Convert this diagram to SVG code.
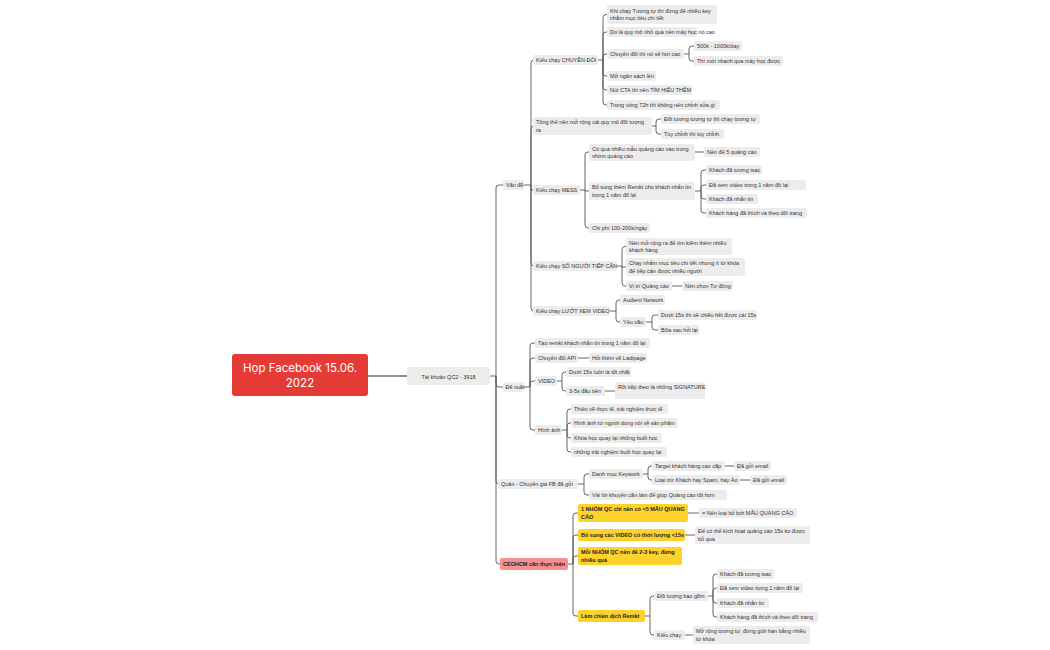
<svg xmlns="http://www.w3.org/2000/svg" width="1050" height="650" viewBox="0 0 1050 650">
<style>
.b{fill:#ececec}
.y{fill:#fdd22d}
.t{font-family:"Liberation Sans",Arial,sans-serif;font-size:5.5px;fill:#333}
.tb{font-family:"Liberation Sans",Arial,sans-serif;font-size:5.5px;fill:#222;font-weight:bold}
.c{fill:none;stroke:#555;stroke-width:0.9}
</style>
<rect width="1050" height="650" fill="#fff"/>
<g id="connectors">
<path d="M368 376H407" fill="none" stroke="#666" stroke-width="1.6"/>
<path class="c" stroke-width="1.3" d="M490 376H496M496 376V188Q496 185 499 185H503M496 376V384Q496 387 499 387H503M496 376V481Q496 484 499 484H498M496 376V561Q496 564 499 564H500"/>
<path class="c" d="M524 185H531M531 185V63Q531 60 534 60H533M531 185V129Q531 126 534 126H533M531 185V190H533M531 185V263Q531 266 534 266H533M531 185V308Q531 311 534 311H533"/>
<path class="c" d="M598 60H603M603 60V17.5Q603 14.5 606 14.5H607M603 60V35Q603 32 606 32H607M603 60V57Q603 54 606 54H607M603 60V73Q603 76 606 76H607M603 60V87Q603 90 606 90H607M603 60V102Q603 105 606 105H607"/>
<path class="c" d="M684 54H689M689 54V49Q689 46 692 46H694M689 54V58Q689 61 692 61H694"/>
<path class="c" d="M652 126H656M656 126V122Q656 119 659 119H661M656 126V131Q656 134 659 134H661"/>
<path class="c" d="M580 190H585M585 190V155Q585 152 588 152H589M585 190V191H589M585 190V225Q585 228 588 228H589"/>
<path class="c" d="M695 152H704"/>
<path class="c" d="M695 191H701M701 191V173Q701 170 704 170H706M701 191V188Q701 185 704 185H706M701 191V196Q701 199 704 199H706M701 191V210Q701 213 704 213H706"/>
<path class="c" d="M617 266H622M622 266V249.5Q622 246.5 625 246.5H626M622 266V267H626M622 266V283Q622 286 625 286H626"/>
<path class="c" d="M672 286H682"/>
<path class="c" d="M610 311H616M616 311V303Q616 300 619 300H620M616 311V319Q616 322 619 322H620"/>
<path class="c" d="M646 322H652M652 322V318Q652 315 655 315H658M652 322V327Q652 330 655 330H658"/>
<path class="c" d="M524 387H530M530 387V346Q530 343 533 343H535M530 387V361Q530 358 533 358H535M530 387V384Q530 381 533 381H535M530 387V427Q530 430 533 430H535"/>
<path class="c" d="M578 358H589"/>
<path class="c" d="M557 381H562M562 381V375Q562 372 565 372H566M562 381V388Q562 391 565 391H566"/>
<path class="c" d="M605 391H615"/>
<path class="c" d="M562 430H567M567 430V412Q567 409 570 409H571M567 430V426Q567 423 570 423H571M567 430V435Q567 438 570 438H571M567 430V449Q567 452 570 452H571"/>
<path class="c" d="M578 484H584M584 484V477Q584 474 587 474H589M584 484V492Q584 495 587 495H589"/>
<path class="c" d="M643 474H648M648 474V469Q648 466 651 466H652M648 474V477Q648 480 651 480H652"/>
<path class="c" d="M725 466H734M740 480H750"/>
<path class="c" d="M568 564H573M573 564V516Q573 513 576 513H578M573 564V538Q573 535 576 535H578M573 564V559Q573 556 576 556H578M573 564V613Q573 616 576 616H578"/>
<path class="c" d="M688 513H699M685 535H695"/>
<path class="c" d="M645 616H650M650 616V599Q650 596 653 596H654M650 616V632Q650 635 653 635H654"/>
<path class="c" d="M708 596H713M713 596V577Q713 574 716 574H717M713 596V591Q713 588 716 588H717M713 596V600Q713 603 716 603H717M713 596V614Q713 617 716 617H717"/>
<path class="c" d="M685 635H693"/>
</g>
<g id="root"><rect x="232" y="354" width="136" height="42" rx="3" fill="#e43b36"/><text font-family="Inter,'Liberation Sans',sans-serif" font-size="11.5" fill="#fff" text-anchor="middle"><tspan x="300" y="372">Họp Facebook 15.06.</tspan><tspan x="300" y="387">2022</tspan></text></g>
<g id="acc"><rect class="b" x="407" y="367" width="83" height="18" rx="2"/><text class="t" x="448.5" y="378.5" font-size="6.8" text-anchor="middle">Tài khoản QC2 - 3918</text></g>
<g id="vande"><rect class="b" x="503" y="180" width="21" height="10" rx="2"/><text class="t" x="506" y="187">Vấn đề</text></g>
<g id="n1"><rect class="b" x="533" y="55" width="65" height="10" rx="2"/><text class="t" x="536" y="62">Kiểu chạy CHUYỂN ĐỔI</text></g>
<g id="n1a"><rect class="b" x="607" y="5" width="110" height="19" rx="2"/><text class="t"><tspan x="610" y="12.5">Khi chạy Tương tự thì đừng để nhiều key</tspan><tspan x="610" y="20">nhắm mục tiêu chi tiết</tspan></text></g>
<g id="n1b"><rect class="b" x="607" y="27" width="90" height="10" rx="2"/><text class="t" x="610" y="34">Do là quy mô nhỏ quá nên máy học nó cao</text></g>
<g id="n1c"><rect class="b" x="607" y="49" width="77" height="10" rx="2"/><text class="t" x="610" y="56">Chuyển đổi thì nó sẽ hơi cao</text></g>
<g id="n1c1"><rect class="b" x="694" y="41" width="48" height="10" rx="2"/><text class="t" x="697" y="48">500k - 1000k/day</text></g>
<g id="n1c2"><rect class="b" x="694" y="56" width="89" height="10" rx="2"/><text class="t" x="697" y="63">Thì mới nhanh qua máy học được</text></g>
<g id="n1d"><rect class="b" x="607" y="71" width="49" height="10" rx="2"/><text class="t" x="610" y="78">Mở ngân sách lên</text></g>
<g id="n1e"><rect class="b" x="607" y="85" width="85" height="10" rx="2"/><text class="t" x="610" y="92">Nút CTA thì nên TÌM HIỂU THÊM</text></g>
<g id="n1f"><rect class="b" x="607" y="100" width="113" height="10" rx="2"/><text class="t" x="610" y="107">Trong vòng 72h thì không nên chỉnh sửa gì</text></g>
<g id="n2"><rect class="b" x="533" y="117" width="119" height="18" rx="2"/><text class="t"><tspan x="536" y="124">Tổng thể nên mở rộng cái quy mô đối tượng</tspan><tspan x="536" y="131.5">ra</tspan></text></g>
<g id="n2a"><rect class="b" x="661" y="114" width="99" height="10" rx="2"/><text class="t" x="664" y="121">Đối tượng tương tự thì chạy tương tự</text></g>
<g id="n2b"><rect class="b" x="661" y="129" width="63" height="10" rx="2"/><text class="t" x="664" y="136">Tùy chỉnh thì tùy chỉnh</text></g>
<g id="n3"><rect class="b" x="533" y="185" width="47" height="10" rx="2"/><text class="t" x="536" y="192">Kiểu chạy MESS</text></g>
<g id="n3a"><rect class="b" x="589" y="144" width="106" height="17" rx="2"/><text class="t"><tspan x="592" y="151">Có quá nhiều mẫu quảng cáo vào trong</tspan><tspan x="592" y="158">nhóm quảng cáo</tspan></text></g>
<g id="n3a1"><rect class="b" x="704" y="147" width="56" height="10" rx="2"/><text class="t" x="707" y="154">Nên để 5 quảng cáo</text></g>
<g id="n3b"><rect class="b" x="589" y="182" width="106" height="18" rx="2"/><text class="t"><tspan x="592" y="189">Bổ sung thêm Remkt cho khách nhắn tin</tspan><tspan x="592" y="196.5">trong 1 năm đổ lại</tspan></text></g>
<g id="n3b1"><rect class="b" x="706" y="165" width="56" height="10" rx="2"/><text class="t" x="709" y="172">Khách đã tương tsac</text></g>
<g id="n3b2"><rect class="b" x="706" y="180" width="100" height="10" rx="2"/><text class="t" x="709" y="187">Đã xem video trong 1 năm đổ lại</text></g>
<g id="n3b3"><rect class="b" x="706" y="194" width="52" height="10" rx="2"/><text class="t" x="709" y="201">Khách đã nhắn tin</text></g>
<g id="n3b4"><rect class="b" x="706" y="208" width="101" height="10" rx="2"/><text class="t" x="709" y="215">Khách hàng đã thích và theo dõi trang</text></g>
<g id="n3c"><rect class="b" x="589" y="223" width="61" height="10" rx="2"/><text class="t" x="592" y="230">Chi phí 100-200k/ngày</text></g>
<g id="n4"><rect class="b" x="533" y="261" width="84" height="10" rx="2"/><text class="t" x="536" y="268">Kiểu chạy SỐ NGƯỜI TIẾP CẬN</text></g>
<g id="n4a"><rect class="b" x="626" y="238" width="106" height="17" rx="2"/><text class="t"><tspan x="629" y="245">Nên mở rộng ra để tìm kiếm thêm nhiều</tspan><tspan x="629" y="252">khách hàng</tspan></text></g>
<g id="n4b"><rect class="b" x="626" y="258" width="119" height="18" rx="2"/><text class="t"><tspan x="629" y="265">Chạy nhắm mục tiêu chi tiết nhưng ít từ khóa</tspan><tspan x="629" y="272.5">để tiếp cận được nhiều người</tspan></text></g>
<g id="n4c"><rect class="b" x="626" y="281" width="46" height="10" rx="2"/><text class="t" x="629" y="288">Vị trí Quảng cáo</text></g>
<g id="n4c1"><rect class="b" x="682" y="281" width="51" height="10" rx="2"/><text class="t" x="685" y="288">Nên chọn Tự động</text></g>
<g id="n5"><rect class="b" x="533" y="306" width="77" height="10" rx="2"/><text class="t" x="536" y="313">Kiểu chạy LƯỚT XEM VIDEO</text></g>
<g id="n5a"><rect class="b" x="620" y="295" width="45" height="10" rx="2"/><text class="t" x="623" y="302">Audient Network</text></g>
<g id="n5b"><rect class="b" x="620" y="317" width="26" height="10" rx="2"/><text class="t" x="623" y="324">Yêu cầu:</text></g>
<g id="n5b1"><rect class="b" x="658" y="310" width="99" height="10" rx="2"/><text class="t" x="661" y="317">Dưới 15s thì sẽ chiếu hết được cái 15s</text></g>
<g id="n5b2"><rect class="b" x="658" y="325" width="41" height="10" rx="2"/><text class="t" x="661" y="332">Bữa sau hỏi lại</text></g>
<g id="dexuat"><rect class="b" x="503" y="382" width="21" height="10" rx="2"/><text class="t" x="505.5" y="389">Đề xuất</text></g>
<g id="d1"><rect class="b" x="535" y="338" width="115" height="10" rx="2"/><text class="t" x="538" y="345">Tạo remkt khách nhắn tin trong 1 năm đổ lại</text></g>
<g id="d2"><rect class="b" x="535" y="353" width="43" height="10" rx="2"/><text class="t" x="538" y="360">Chuyển đổi API</text></g>
<g id="d2a"><rect class="b" x="589" y="353" width="58" height="10" rx="2"/><text class="t" x="592" y="360">Hỏi thêm về Ladipage</text></g>
<g id="d3"><rect class="b" x="535" y="376" width="22" height="10" rx="2"/><text class="t" x="538" y="383">VIDEO</text></g>
<g id="d3a"><rect class="b" x="566" y="367" width="65" height="10" rx="2"/><text class="t" x="569" y="374">Dưới 15s luôn là tốt nhất</text></g>
<g id="d3b"><rect class="b" x="566" y="386" width="39" height="10" rx="2"/><text class="t" x="569" y="393">3-5s đầu tiên</text></g>
<g id="d3b1"><rect class="b" x="615" y="382" width="90" height="17" rx="2"/><text class="t" x="618" y="389">Rồi tiếp theo là những SIGNATURE</text></g>
<g id="d4"><rect class="b" x="535" y="425" width="27" height="10" rx="2"/><text class="t" x="538" y="432">Hình ảnh</text></g>
<g id="d4a"><rect class="b" x="571" y="404" width="97" height="10" rx="2"/><text class="t" x="574" y="411">Thiên về thực tế, trải nghiệm thực tế</text></g>
<g id="d4b"><rect class="b" x="571" y="418" width="107" height="10" rx="2"/><text class="t" x="574" y="425">Hình ảnh từ người dùng nói về sản phẩm</text></g>
<g id="d4c"><rect class="b" x="571" y="433" width="91" height="10" rx="2"/><text class="t" x="574" y="440">Khóa học quay lại những buổi học</text></g>
<g id="d4d"><rect class="b" x="571" y="447" width="96" height="10" rx="2"/><text class="t" x="574" y="454">những trải nghiệm buổi học quay lại</text></g>
<g id="quan"><rect class="b" x="498" y="479" width="80" height="10" rx="2"/><text class="t" x="501" y="486">Quân - Chuyên gia FB đã gửi</text></g>
<g id="q1"><rect class="b" x="589" y="469" width="54" height="10" rx="2"/><text class="t" x="592" y="476">Danh mục Keywork</text></g>
<g id="q1a"><rect class="b" x="652" y="461" width="73" height="10" rx="2"/><text class="t" x="655" y="468">Target khách hàng cao cấp</text></g>
<g id="q1a1"><rect class="b" x="734" y="461" width="37" height="10" rx="2"/><text class="t" x="737" y="468">Đã gửi email</text></g>
<g id="q1b"><rect class="b" x="652" y="475" width="88" height="10" rx="2"/><text class="t" x="655" y="482">Loại trừ Khách hay Spam, hay Ảo</text></g>
<g id="q1b1"><rect class="b" x="750" y="475" width="37" height="10" rx="2"/><text class="t" x="753" y="482">Đã gửi email</text></g>
<g id="q2"><rect class="b" x="589" y="490" width="138" height="10" rx="2"/><text class="t" x="592" y="497">Vài lời khuyên cần làm để giúp Quảng cáo tốt hơn</text></g>
<g id="ceo"><rect x="500" y="558" width="68" height="12" rx="2" fill="#f78f8f"/><text class="tb" x="503" y="566">CEOHCM cần thực hiện</text></g>
<g id="c1"><rect class="y" x="578" y="504" width="110" height="18" rx="2"/><text class="tb"><tspan x="581" y="511">1 NHÓM QC chỉ nên có &lt;5 MẪU QUẢNG</tspan><tspan x="581" y="518.5">CÁO</tspan></text></g>
<g id="c1a"><rect class="b" x="699" y="508" width="98" height="10" rx="2"/><text class="t" x="702" y="515">= Nên loại bỏ bớt MẪU QUẢNG CÁO</text></g>
<g id="c2"><rect class="y" x="578" y="529" width="107" height="12" rx="2"/><text class="tb" x="581" y="537">Bổ sung các VIDEO có thời lượng &lt;15s</text></g>
<g id="c2a"><rect class="b" x="695" y="526" width="115" height="18" rx="2"/><text class="t"><tspan x="698" y="533">Để có thể kích hoạt quảng cáo 15s ko được</tspan><tspan x="698" y="540.5">bỏ qua</tspan></text></g>
<g id="c3"><rect class="y" x="578" y="547" width="104" height="18" rx="2"/><text class="tb"><tspan x="581" y="554">Mỗi NHÓM QC nên để 2-3 key, đừng</tspan><tspan x="581" y="561.5">nhiều quá</tspan></text></g>
<g id="c4"><rect class="y" x="578" y="610" width="67" height="12" rx="2"/><text class="tb" x="581" y="618">Làm chiến dịch Remkt</text></g>
<g id="c4a"><rect class="b" x="654" y="591" width="54" height="10" rx="2"/><text class="t" x="657" y="598">Đối tượng bao gồm</text></g>
<g id="c4a1"><rect class="b" x="717" y="569" width="57" height="10" rx="2"/><text class="t" x="720" y="576">Khách đã tương tsac</text></g>
<g id="c4a2"><rect class="b" x="717" y="583" width="86" height="10" rx="2"/><text class="t" x="720" y="590">Đã xem video trong 1 năm đổ lại</text></g>
<g id="c4a3"><rect class="b" x="717" y="598" width="52" height="10" rx="2"/><text class="t" x="720" y="605">Khách đã nhắn tin</text></g>
<g id="c4a4"><rect class="b" x="717" y="612" width="101" height="10" rx="2"/><text class="t" x="720" y="619">Khách hàng đã thích và theo dõi trang</text></g>
<g id="c4b"><rect class="b" x="654" y="630" width="31" height="10" rx="2"/><text class="t" x="657" y="637">Kiểu chạy</text></g>
<g id="c4b1"><rect class="b" x="693" y="626" width="117" height="18" rx="2"/><text class="t"><tspan x="696" y="633">Mở rộng tương tự, đừng giới hạn bằng nhiều</tspan><tspan x="696" y="640.5">từ khóa</tspan></text></g>
</svg>
